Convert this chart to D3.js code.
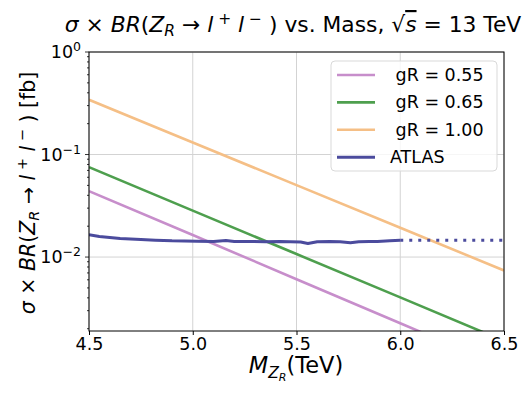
<!DOCTYPE html>
<html>
<head>
<meta charset="utf-8">
<script src="https://cdn.jsdelivr.net/npm/d3@7"></script>
<style>
  body { margin: 0; background: #fff; }
  svg { font-family: "DejaVu Sans", sans-serif; }
  text { white-space: pre; }
</style>
</head>
<body>
<svg width="529" height="397"></svg>
<script>
const svg = d3.select("svg");
const width = +svg.attr("width");
const height = +svg.attr("height");
const margin = { top: 52, right: 25, bottom: 66, left: 89 };

const masses = [4.5, 5.0, 5.5, 6.0, 6.5];
const gr055 = [0.044, 0.0164, 0.00608, 0.00226, 0.00084];
const gr065 = [0.0753, 0.0284, 0.0107, 0.00404, 0.00152];
const gr100 = [0.342, 0.131, 0.0503, 0.0193, 0.0074];

// ATLAS observed limit (solid) and extension (dotted)
const atlasMass = [4.5, 4.55, 4.65, 4.75, 4.82, 4.9, 5.02, 5.1, 5.16, 5.2, 5.27, 5.35, 5.42, 5.47, 5.52, 5.555, 5.6, 5.66, 5.71, 5.76, 5.8, 5.85, 5.89, 5.95, 6.0];
const atlasVal = [0.0165, 0.0159, 0.0152, 0.0148, 0.0146, 0.0144, 0.0143, 0.0142, 0.0145, 0.0142, 0.0142, 0.0141, 0.0142, 0.0141, 0.0140, 0.01355, 0.0141, 0.0142, 0.0141, 0.0138, 0.0141, 0.0142, 0.0142, 0.0144, 0.0146];
const atlasExtMass = [6.0, 6.5];
const atlasExtVal = [0.0146, 0.0146];

const xTicks = [4.5, 5.0, 5.5, 6.0, 6.5];
const yTicks = [1, 0.1, 0.01];
const yTickExp = ["0", "\u22121", "\u22122"];

const colors = {
  pink: "#c78ecb",
  green: "#4e9f4e",
  orange: "#f5bf86",
  navy: "#4b4b9d"
};

const innerWidth = width - margin.left - margin.right;
const innerHeight = height - margin.top - margin.bottom;

const xScale = d3.scaleLinear().domain([4.5, 6.5]).range([0, innerWidth]);
const yScale = d3.scaleLog().domain([0.0019, 1]).range([innerHeight, 0]);

const g = svg.append("g").attr("transform", `translate(${margin.left}, ${margin.top})`);

svg.append("defs").append("clipPath").attr("id", "clip")
  .append("rect").attr("x", 0).attr("y", 0).attr("width", innerWidth).attr("height", innerHeight);

// grid
g.selectAll(".xgrid").data(xTicks).enter().append("line")
  .attr("x1", (d) => xScale(d)).attr("x2", (d) => xScale(d))
  .attr("y1", 0).attr("y2", innerHeight)
  .attr("stroke", "#d3d3d3").attr("stroke-width", 1);
g.selectAll(".ygrid").data(yTicks).enter().append("line")
  .attr("x1", 0).attr("x2", innerWidth)
  .attr("y1", (d) => yScale(d)).attr("y2", (d) => yScale(d))
  .attr("stroke", "#d3d3d3").attr("stroke-width", 1);

// x axis
const xAxis = d3.axisBottom(xScale).tickValues(xTicks).tickFormat(d3.format(".1f")).tickSize(4).tickPadding(3);
const xAxisG = g.append("g").attr("transform", `translate(0, ${innerHeight})`).call(xAxis);
xAxisG.select(".domain").remove();
xAxisG.selectAll("text").attr("font-size", 17.5).attr("fill", "#000").attr("font-family", "DejaVu Sans");

// y axis: major and minor ticks
const minor = [];
for (let e = -3; e <= 0; e++) {
  for (let m = 2; m <= 9; m++) {
    const v = m * Math.pow(10, e);
    if (v >= 0.0019 && v <= 1) minor.push(v);
  }
}
g.selectAll(".yminor").data(minor).enter().append("line")
  .attr("x1", -2).attr("x2", 0)
  .attr("y1", (d) => yScale(d)).attr("y2", (d) => yScale(d))
  .attr("stroke", "#000").attr("stroke-width", 0.8);
g.selectAll(".ymajor").data(yTicks).enter().append("line")
  .attr("x1", -4).attr("x2", 0)
  .attr("y1", (d) => yScale(d)).attr("y2", (d) => yScale(d))
  .attr("stroke", "#000").attr("stroke-width", 0.8);

const yLab = g.selectAll(".ylab").data(yTicks).enter().append("text")
  .attr("x", -8).attr("y", (d) => yScale(d) + 6)
  .attr("text-anchor", "end").attr("font-size", 17.5);
yLab.append("tspan").text("10");
yLab.append("tspan").attr("font-size", 12.5).attr("dy", -7).text((d, i) => yTickExp[i]);

// lines
const line = d3.line().x((d) => xScale(d[0])).y((d) => yScale(d[1]));
const plotG = g.append("g").attr("clip-path", "url(#clip)");

const series = [
  { name: " gR = 0.55", vals: gr055, color: colors.pink },
  { name: " gR = 0.65", vals: gr065, color: colors.green },
  { name: " gR = 1.00", vals: gr100, color: colors.orange }
];
series.forEach((s) => {
  plotG.append("path")
    .attr("d", line(masses.map((m, i) => [m, s.vals[i]])))
    .attr("fill", "none").attr("stroke", s.color).attr("stroke-width", 2.6);
});

plotG.append("path")
  .attr("d", line(atlasMass.map((m, i) => [m, atlasVal[i]])))
  .attr("fill", "none").attr("stroke", colors.navy).attr("stroke-width", 3)
  .attr("stroke-linejoin", "round");
plotG.append("path")
  .attr("d", line(atlasExtMass.map((m, i) => [m, atlasExtVal[i]])))
  .attr("fill", "none").attr("stroke", colors.navy).attr("stroke-width", 3)
  .attr("stroke-dasharray", "3,6");

// frame
g.append("rect").attr("x", 0).attr("y", 0).attr("width", innerWidth).attr("height", innerHeight)
  .attr("fill", "none").attr("stroke", "#000").attr("stroke-width", 1);

// legend
const legendItems = series.concat([{ name: "ATLAS", color: colors.navy }]);
const legG = svg.append("g");
legG.append("rect").attr("x", 331).attr("y", 61).attr("width", 166).attr("height", 110)
  .attr("rx", 4).attr("fill", "#fff").attr("fill-opacity", 0.8)
  .attr("stroke", "#d9d9d9").attr("stroke-width", 1);
legendItems.forEach((d, i) => {
  const y = 75 + i * 27.4;
  legG.append("line").attr("x1", 337).attr("x2", 375).attr("y1", y).attr("y2", y)
    .attr("stroke", d.color).attr("stroke-width", d.name === "ATLAS" ? 3 : 2.6);
  legG.append("text").attr("x", 390).attr("y", y + 6).attr("font-size", 17.5).text(d.name);
});

// math label pieces shared by title and y label
function mathLabel(sel, small, tail) {
  sel.append("tspan").attr("font-style", "italic").text("\u03c3");
  sel.append("tspan").text(" \u00d7 ");
  sel.append("tspan").attr("font-style", "italic").text("BR");
  sel.append("tspan").text("(");
  sel.append("tspan").attr("font-style", "italic").text("Z");
  sel.append("tspan").attr("font-style", "italic").attr("font-size", small).attr("dy", 4).text("R");
  sel.append("tspan").attr("dy", -4).text(" \u2192 ");
  sel.append("tspan").attr("font-style", "italic").text("l");
  sel.append("tspan").attr("font-size", small).attr("dy", -8).text(" +");
  sel.append("tspan").attr("font-style", "italic").attr("dy", 8).text(" l");
  sel.append("tspan").attr("font-size", small).attr("dy", -8).text(" \u2212");
  sel.append("tspan").attr("dy", 8).text(tail);
}

// title
const title = svg.append("text").attr("x", 293).attr("y", 32).attr("text-anchor", "middle").attr("font-size", 21.8);
mathLabel(title, 15.5, " ) vs. Mass, \u221a");
title.append("tspan").attr("font-style", "italic").attr("text-decoration", "overline").text("s");
title.append("tspan").text(" = 13 TeV");

// x label
const xl = svg.append("text").attr("x", 296).attr("y", 373).attr("text-anchor", "middle").attr("font-size", 22.5);
xl.append("tspan").attr("font-style", "italic").text("M");
xl.append("tspan").attr("font-style", "italic").attr("font-size", 15.5).attr("dy", 5).text("Z");
xl.append("tspan").attr("font-style", "italic").attr("font-size", 11).attr("dy", 3).text("R");
xl.append("tspan").attr("dy", -8).text("(TeV)");

// y label
const yl = svg.append("text").attr("transform", "translate(35, 193) rotate(-90)")
  .attr("text-anchor", "middle").attr("font-size", 20.5);
mathLabel(yl, 14.5, " ) [fb]");
</script>
</body>
</html>
